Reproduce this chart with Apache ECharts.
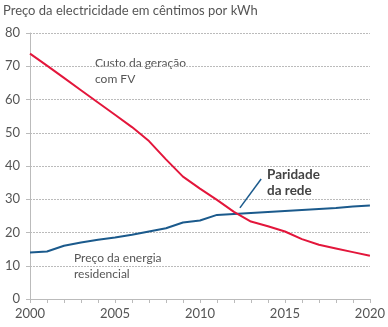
<!DOCTYPE html>
<html>
<head>
<meta charset="utf-8">
<script src="https://cdn.jsdelivr.net/npm/echarts@6/dist/echarts.min.js"></script>
<style>
html,body{margin:0;padding:0;background:#fff;}
#c{width:388px;height:327px;}
</style>
</head>
<body>
<div id="c"></div>
<script>
const years = [2000,2001,2002,2003,2004,2005,2006,2007,2008,2009,2010,2011,2012,2013,2014,2015,2016,2017,2018,2019,2020];
const pvCost = [73.8,70.2,66.5,62.8,59.1,55.4,51.7,47.5,42.0,36.8,33.2,29.8,26.2,23.3,21.9,20.3,18.0,16.3,15.2,14.1,13.0];
const gridPrice = [14.0,14.3,16.0,17.0,17.8,18.5,19.3,20.3,21.3,23.0,23.6,25.3,25.6,25.9,26.2,26.5,26.8,27.1,27.4,27.8,28.1];
const xTicks = [2000,2005,2010,2015,2020];
const yTicks = [0,10,20,30,40,50,60,70,80];
const parityLine = [[2012.35,27.4],[2013.6,36.1]];

const font = 'Lato, "Noto Sans", sans-serif';
const textCol = '#555';
const chart = echarts.init(document.getElementById('c'));
chart.setOption({
  animation:false,
  grid:{left:30,right:11,top:33,bottom:28},
  xAxis:{
    type:'value', min:xTicks[0], max:xTicks[xTicks.length-1], interval:5,
    axisLine:{lineStyle:{color:'#bbb'}},
    axisTick:{show:true,length:4,lineStyle:{color:'#bbb'}},
    minorTick:{show:true,splitNumber:5,length:4,lineStyle:{color:'#bbb'}},
    splitLine:{show:false},
    axisLabel:{color:textCol,fontSize:13,fontFamily:font,margin:8,formatter:v=>String(v)}
  },
  yAxis:{
    type:'value', min:yTicks[0], max:yTicks[yTicks.length-1], interval:10,
    axisLine:{show:true,lineStyle:{color:'#bbb'}},
    axisTick:{show:true,length:4,lineStyle:{color:'#bbb'}},
    splitLine:{show:true,lineStyle:{color:'#bbb',type:[2,1],width:1}},
    axisLabel:{color:textCol,fontSize:13,fontFamily:font,margin:10}
  },
  series:[
    {type:'line',name:'PV',data:years.map((y,i)=>[y,pvCost[i]]),symbol:'none',
     lineStyle:{color:'#e3163b',width:2},z:3},
    {type:'line',name:'Grid',data:years.map((y,i)=>[y,gridPrice[i]]),symbol:'none',
     lineStyle:{color:'#1b5a8c',width:2},z:2,
     markLine:{silent:true,symbol:'none',label:{show:false},
       lineStyle:{color:'#1b5a8c',width:1.5,type:'solid'},
       data:[[{coord:parityLine[0]},{coord:parityLine[1]}]]}}
  ],
  graphic:[
    {type:'text',left:3,top:4,style:{text:'Preço da electricidade em cêntimos por kWh',fill:textCol,font:'13px '+font}},
    {type:'text',left:95,top:55,style:{text:'Custo da geração\ncom FV',fill:textCol,font:'12px '+font,lineHeight:16}},
    {type:'text',left:267,top:167,style:{text:'Paridade\nda rede',fill:'#444',font:'bold 13.5px '+font,lineHeight:16}},
    {type:'text',left:74,top:250,style:{text:'Preço da energia\nresidencial',fill:textCol,font:'12px '+font,lineHeight:16}}
  ]
});
</script>
</body>
</html>
